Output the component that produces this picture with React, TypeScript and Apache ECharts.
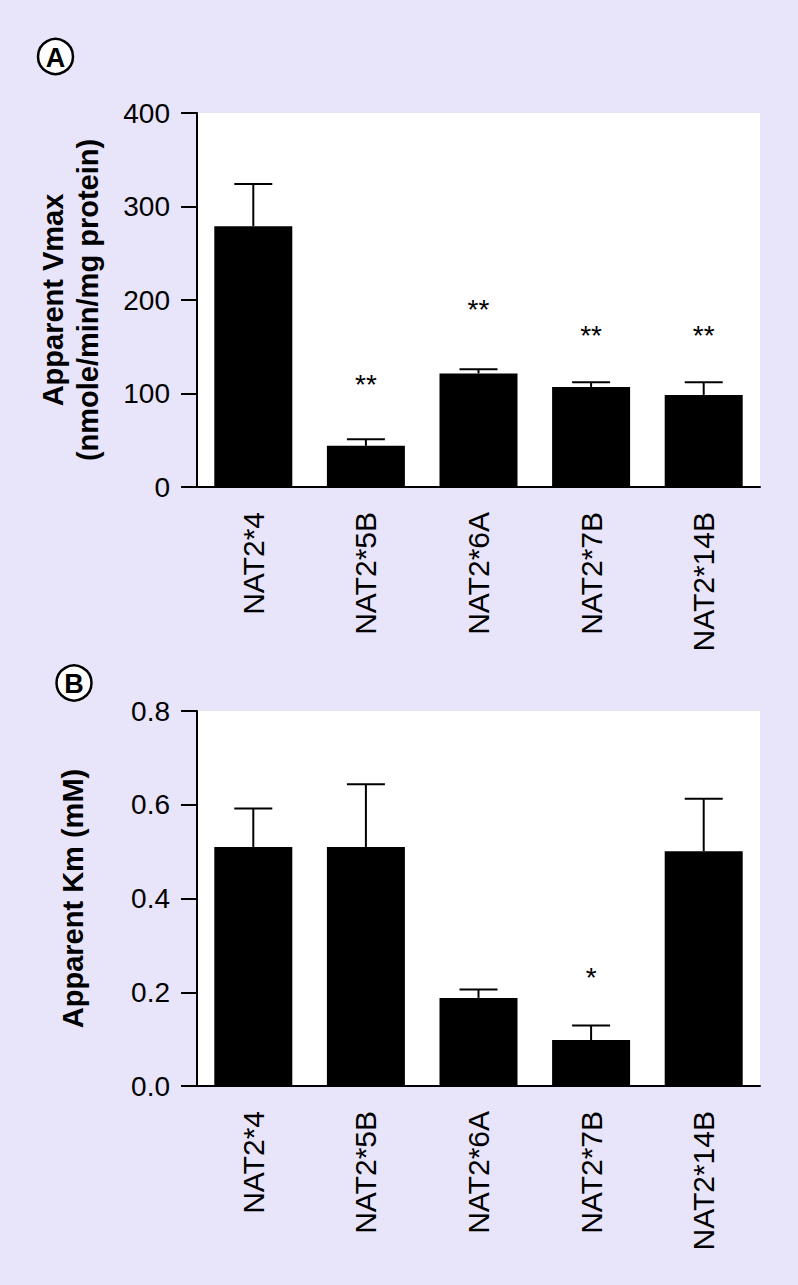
import React, { useEffect, useRef } from "react";
import * as echarts from "echarts";

const categories = ["NAT2*4", "NAT2*5B", "NAT2*6A", "NAT2*7B", "NAT2*14B"];

// Panel A: Apparent Vmax (nmole/min/mg protein)
const vmaxMean = [279, 44, 121.5, 107, 98.5];
const vmaxUpper = [324, 51, 126, 112, 112];
const vmaxStars = ["", "**", "**", "**", "**"];
const vmaxStarPos = [0, 117, 197, 170, 170];

// Panel B: Apparent Km (mM)
const kmMean = [0.51, 0.51, 0.188, 0.098, 0.501];
const kmUpper = [0.592, 0.644, 0.206, 0.129, 0.613];
const kmStars = ["", "", "", "*", ""];
const kmStarPos = [0, 0, 0, 0.247, 0];

const vmaxTicks = { min: 0, max: 400, interval: 100 };
const kmTicks = { min: 0, max: 0.8, interval: 0.2 };

const FONT = '"Liberation Sans", Arial, Helvetica, sans-serif';
const BG = "#e8e4f9";

function xAxisFor(gridIndex: number) {
  return {
    type: "category",
    gridIndex,
    data: categories,
    axisLine: { lineStyle: { color: "#000", width: 2 } },
    axisTick: { alignWithLabel: true, length: 16, lineStyle: { color: "#000", width: 2 } },
    axisLabel: { rotate: 90, interval: 0, fontSize: 30, color: "#000", margin: 25, fontFamily: FONT },
  };
}

function yAxisFor(gridIndex: number, ticks: any, name: string, nameGap: number, lineHeight: number, decimals: number) {
  return {
    type: "value",
    gridIndex,
    min: ticks.min,
    max: ticks.max,
    interval: ticks.interval,
    name,
    nameLocation: "middle",
    nameRotate: 90,
    nameGap,
    nameTextStyle: { fontSize: 29, fontWeight: "bold", color: "#000", fontFamily: FONT, lineHeight },
    axisLine: { show: true, lineStyle: { color: "#000", width: 2 } },
    axisTick: { show: true, length: 16, lineStyle: { color: "#000", width: 2 } },
    splitLine: { show: false },
    axisLabel: {
      fontSize: 28,
      color: "#000",
      margin: 27,
      fontFamily: FONT,
      formatter: (v: number) => v.toFixed(decimals),
    },
  };
}

function errorSeries(axisIndex: number, mean: number[], upper: number[]) {
  return {
    type: "custom",
    xAxisIndex: axisIndex,
    yAxisIndex: axisIndex,
    z: 5,
    data: mean.map((m, i) => [i, m, upper[i]]),
    encode: { x: 0, y: [1, 2] },
    renderItem: (params: any, api: any) => {
      const i = api.value(0);
      const lo = api.coord([i, api.value(1)]);
      const hi = api.coord([i, api.value(2)]);
      const st = { stroke: "#000", lineWidth: 2 };
      return {
        type: "group",
        children: [
          { type: "line", shape: { x1: lo[0], y1: lo[1], x2: hi[0], y2: hi[1] }, style: st },
          { type: "line", shape: { x1: hi[0] - 19, y1: hi[1], x2: hi[0] + 19, y2: hi[1] }, style: st },
        ],
      };
    },
  };
}

function starSeries(axisIndex: number, stars: string[], pos: number[]) {
  const data = stars
    .map((s, i) => (s ? [i, pos[i]] : null))
    .filter((d) => d !== null);
  return {
    type: "custom",
    xAxisIndex: axisIndex,
    yAxisIndex: axisIndex,
    z: 6,
    data,
    encode: { x: 0, y: 1 },
    renderItem: (params: any, api: any) => {
      const i = api.value(0);
      const p = api.coord([i, api.value(1)]);
      return {
        type: "text",
        x: p[0],
        y: p[1] + 7,
        style: {
          text: stars[i],
          fill: "#000",
          fontSize: 28,
          fontFamily: FONT,
          align: "center",
          verticalAlign: "middle",
        },
      };
    },
  };
}

function panelBadge(cx: number, cy: number, letter: string) {
  return {
    type: "group",
    children: [
      {
        type: "circle",
        shape: { cx, cy, r: 17.5 },
        style: { fill: "#fff", stroke: "#000", lineWidth: 2.5 },
      },
      {
        type: "text",
        x: cx,
        y: cy + 1,
        style: {
          text: letter,
          fill: "#000",
          fontSize: 27,
          fontWeight: "bold",
          fontFamily: FONT,
          align: "center",
          verticalAlign: "middle",
        },
      },
    ],
  };
}

export default function App() {
  const ref = useRef<HTMLDivElement>(null);

  useEffect(() => {
    document.body.style.margin = "0";
    document.body.style.background = BG;
    if (!ref.current) return;
    const chart = echarts.init(ref.current, null, { renderer: "svg" });
    chart.setOption({
      animation: false,
      backgroundColor: BG,
      grid: [
        { left: 197, top: 113, width: 563, height: 374, show: true, backgroundColor: "#fff", borderWidth: 0 },
        { left: 197, top: 711, width: 563, height: 375, show: true, backgroundColor: "#fff", borderWidth: 0 },
      ],
      xAxis: [xAxisFor(0), xAxisFor(1)],
      yAxis: [
        yAxisFor(0, vmaxTicks, "Apparent Vmax\n(nmole/min/mg protein)", 92, 35, 0),
        yAxisFor(1, kmTicks, "Apparent Km (mM)", 110, 29, 1),
      ],
      series: [
        {
          type: "bar",
          xAxisIndex: 0,
          yAxisIndex: 0,
          data: vmaxMean,
          barWidth: 78,
          itemStyle: { color: "#000" },
        },
        errorSeries(0, vmaxMean, vmaxUpper),
        starSeries(0, vmaxStars, vmaxStarPos),
        {
          type: "bar",
          xAxisIndex: 1,
          yAxisIndex: 1,
          data: kmMean,
          barWidth: 78,
          itemStyle: { color: "#000" },
        },
        errorSeries(1, kmMean, kmUpper),
        starSeries(1, kmStars, kmStarPos),
      ],
      graphic: [panelBadge(55.5, 56.5, "A"), panelBadge(74, 683, "B")],
    });
    return () => chart.dispose();
  }, []);

  return <div ref={ref} style={{ width: 798, height: 1285 }} />;
}
